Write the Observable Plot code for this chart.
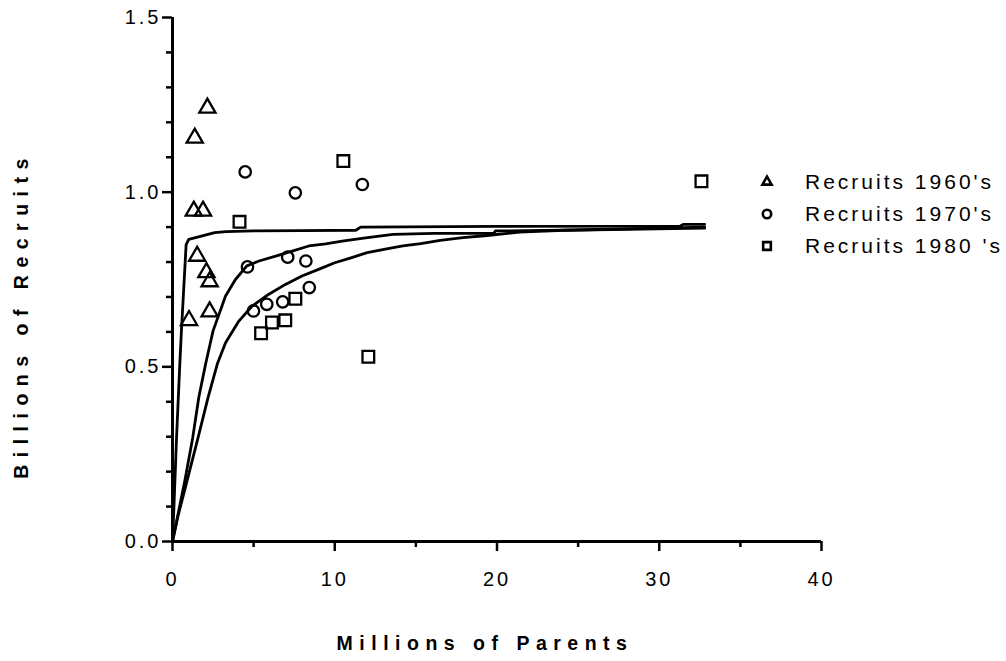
<!DOCTYPE html>
<html>
<head>
<meta charset="utf-8">
<script src="https://cdn.jsdelivr.net/npm/d3@7"></script>
<script src="https://cdn.jsdelivr.net/npm/@observablehq/plot@0.6"></script>
<style>
  body { margin: 0; background: #fff; }
  #chart { position: relative; width: 1006px; height: 661px; font-family: "Liberation Sans", Arial, sans-serif; color: #000; }
  #chart svg { display: block; }
  #legend { position: absolute; left: 757px; top: 166px; font-size: 21px; letter-spacing: 3px; }
  #legend .row { display: flex; align-items: center; height: 32px; }
  #legend svg { width: 20px; height: 20px; overflow: visible; }
  #legend span { margin-left: 28px; white-space: pre; }
  #ytitle { position: absolute; left: 22px; top: 315px; transform: translate(-50%, -50%) rotate(-90deg);
            font-size: 19.5px; font-weight: bold; letter-spacing: 7.5px; white-space: nowrap; line-height: 1; }
</style>
</head>
<body>
<div id="chart"></div>
<script>
// Stock (millions of parents) and recruitment (billions of recruits) by decade
const parents1960s  = [2.15, 1.37, 1.31, 1.88, 1.52, 2.09, 2.29, 1.02, 2.29];
const recruits1960s = [1.241, 1.155, 0.946, 0.946, 0.817, 0.770, 0.744, 0.633, 0.658];

const parents1970s  = [4.48, 7.57, 11.70, 4.62, 7.10, 8.22, 8.43, 4.99, 5.81, 6.79];
const recruits1970s = [1.058, 0.998, 1.022, 0.786, 0.814, 0.803, 0.727, 0.660, 0.679, 0.686];

const parents1980s  = [10.53, 4.13, 7.57, 6.95, 6.13, 5.46, 12.07, 32.6];
const recruits1980s = [1.089, 0.915, 0.695, 0.633, 0.627, 0.596, 0.529, 1.031];

// Fitted stock-recruitment curves, one per decade
const curve1960sX = [0, 0.08, 0.25, 0.45, 0.55, 0.84, 1.0, 1.6, 2.6, 3.3, 5, 8, 11.3, 11.6, 20, 31.3, 31.5, 32.8];
const curve1960sY = [0, 0.089, 0.298, 0.508, 0.603, 0.85, 0.865, 0.872, 0.884, 0.887, 0.889, 0.890, 0.891, 0.9, 0.902, 0.903, 0.908, 0.908];

const curve1970sX = [0, 0.35, 0.76, 1.25, 1.62, 2.04, 2.5, 3.27, 3.88, 4.58, 5.33, 6.36, 7.38, 8.4, 9.44, 10.46, 11.9, 13.6, 16.1, 19.8, 19.9, 24.1, 32.8];
const curve1970sY = [0, 0.08, 0.174, 0.298, 0.412, 0.508, 0.603, 0.703, 0.75, 0.789, 0.803, 0.817, 0.831, 0.846, 0.852, 0.86, 0.869, 0.879, 0.882, 0.882, 0.889, 0.891, 0.9];

const curve1980sX = [0, 0.35, 0.9, 1.58, 2.19, 2.76, 3.27, 4.09, 4.91, 5.94, 6.96, 7.98, 9.0, 10.0, 11.0, 12.0, 13.2, 14.2, 15.3, 16.5, 17.9, 19.4, 21.4, 24.1, 32.8];
const curve1980sY = [0, 0.075, 0.174, 0.298, 0.412, 0.508, 0.569, 0.631, 0.674, 0.708, 0.736, 0.76, 0.779, 0.798, 0.812, 0.827, 0.838, 0.846, 0.853, 0.862, 0.87, 0.876, 0.886, 0.891, 0.897];

// Axis ticks and labels
const xMajorTicks = [0, 10, 20, 30, 40];
const xMinorTicks = [5, 15, 25, 35];
const yMajorTicks = [0, 0.5, 1.0, 1.5];
const yMinorTicks = [0.1, 0.2, 0.3, 0.4, 0.6, 0.7, 0.8, 0.9, 1.1, 1.2, 1.3, 1.4];
const xTitle = "Millions of Parents";
const yTitle = "Billions of Recruits";
const seriesNames = ["Recruits 1960's", "Recruits 1970's", "Recruits 1980 's"];
const seriesSymbols = ["triangle", "circle", "square"];

const toPoints = (xs, ys) => xs.map((x, i) => ({x, y: ys[i]}));

const points = [
  {data: toPoints(parents1960s, recruits1960s), r: 6.0},
  {data: toPoints(parents1970s, recruits1970s), r: 5.7},
  {data: toPoints(parents1980s, recruits1980s), r: 6.6}
];
const curves = [
  toPoints(curve1960sX, curve1960sY),
  toPoints(curve1970sX, curve1970sY),
  toPoints(curve1980sX, curve1980sY)
];

const chart = Plot.plot({
  width: 1006,
  height: 661,
  marginLeft: 172,
  marginRight: 185,
  marginTop: 17,
  marginBottom: 120,
  x: {domain: [0, 40]},
  y: {domain: [0, 1.5]},
  style: {fontFamily: '"Liberation Sans", Arial, sans-serif', color: "#000", background: "#fff"},
  marks: [
    Plot.axisX({ticks: xMajorTicks, tickSize: 10, tickPadding: 20, strokeWidth: 2.5, fontSize: 20, label: null}),
    Plot.axisX({ticks: xMinorTicks, tickSize: 6, strokeWidth: 2.5, text: null, label: null}),
    Plot.axisY({ticks: yMajorTicks, tickSize: 10, tickPadding: 1, strokeWidth: 2.5, fontSize: 20, tickFormat: d3.format(".1f"), label: null}),
    Plot.axisY({ticks: yMinorTicks, tickSize: 6, strokeWidth: 2.5, text: null, label: null}),
    Plot.ruleX([0], {strokeWidth: 3}),
    Plot.ruleY([0], {strokeWidth: 3}),
    ...curves.map(c => Plot.line(c, {x: "x", y: "y", stroke: "#000", strokeWidth: 2.8})),
    ...points.map((p, i) => Plot.dot(p.data, {x: "x", y: "y", symbol: () => seriesSymbols[i], r: p.r, stroke: "#000", strokeWidth: 2.3, fill: "none"})),
    Plot.text([xTitle], {text: d => d, frameAnchor: "bottom", dx: -12, dy: 108, fontSize: 19.5, fontWeight: "bold"})
  ]
});

// Spaced-out lettering for the x title and the tick labels
d3.select(chart).selectAll("text").each(function() {
  const t = this.textContent;
  if (t === xTitle) this.style.letterSpacing = "6.5px";
  else if (/^[0-9.]+$/.test(t)) this.style.letterSpacing = "3px";
});

const root = document.getElementById("chart");
root.appendChild(chart);

// Vertical title for the recruits axis
const ytitle = document.createElement("div");
ytitle.id = "ytitle";
ytitle.textContent = yTitle;
root.appendChild(ytitle);

// Legend: one row per decade, symbol then name
const legend = document.createElement("div");
legend.id = "legend";
const symbolTypes = {triangle: d3.symbolTriangle2, circle: d3.symbolCircle, square: d3.symbolSquare2};
const legendSizes = {triangle: 60, circle: 55, square: 75};
seriesNames.forEach((name, i) => {
  const row = document.createElement("div");
  row.className = "row";
  const sym = seriesSymbols[i];
  const path = d3.symbol(symbolTypes[sym], legendSizes[sym])();
  row.innerHTML = `<svg viewBox="-10 -10 20 20"><path d="${path}" fill="none" stroke="#000" stroke-width="2.6"></path></svg><span></span>`;
  row.querySelector("span").textContent = name;
  legend.appendChild(row);
});
root.appendChild(legend);
</script>
</body>
</html>
